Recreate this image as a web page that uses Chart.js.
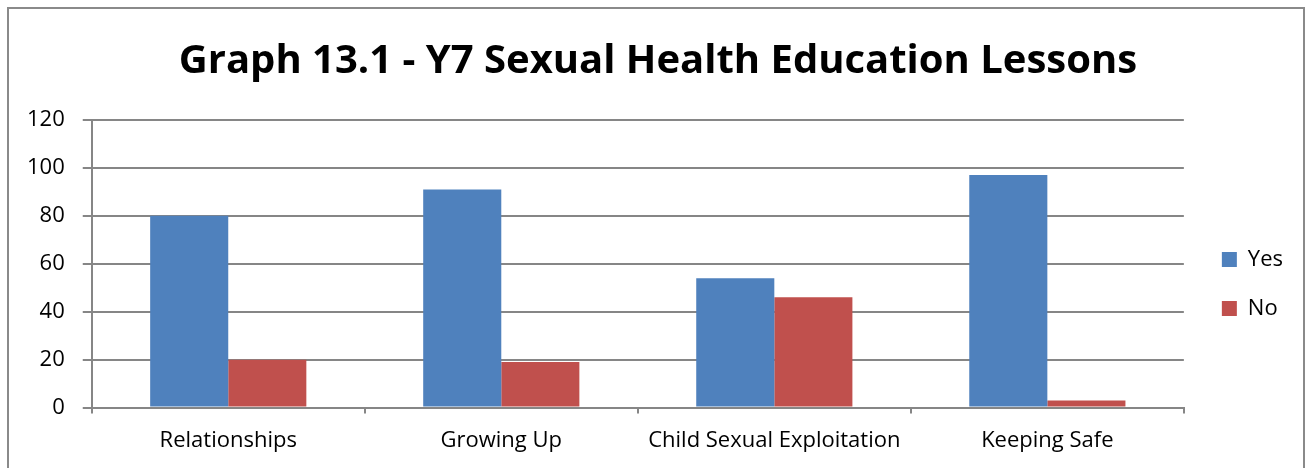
<!DOCTYPE html>
<html>
<head>
<meta charset="utf-8">
<script src="https://cdn.jsdelivr.net/npm/chart.js@4/dist/chart.umd.min.js"></script>
<style>
  body { margin: 0; background: #fff; }
  #frame {
    position: absolute; left: 7px; top: 7px; width: 1298px; height: 500px;
    border: 2px solid #8a8a8a; border-bottom: none; box-sizing: border-box;
  }
  #wrap { position: absolute; left: 0; top: 0; width: 1313px; height: 468px; }
</style>
</head>
<body>
<div id="frame"></div>
<div id="wrap"><canvas id="myChart" width="1313" height="468"></canvas></div>
<script>
const ctx = document.getElementById('myChart').getContext('2d');

// data
const categories = ['Relationships', 'Growing Up', 'Child Sexual Exploitation', 'Keeping Safe'];
const yesValues = [80, 91, 54, 97];
const noValues = [20, 19, 46, 3];
const yTicks = [0, 20, 40, 60, 80, 100, 120];

const axisGrey = '#868686';
const fontFamily = "'Open Sans', 'Liberation Sans', sans-serif";

const graph_data = {
    type: 'bar',
    data: {
        labels: categories,
        datasets: [{
            label: 'Yes',
            data: yesValues,
            backgroundColor: '#4f81bd',
            borderWidth: 0
        }, {
            label: 'No',
            data: noValues,
            backgroundColor: '#c0504d',
            borderWidth: 0
        }]
    },
    options: {
        responsive: false,
        animation: false,
        layout: { padding: { left: 23, right: 20, top: 0, bottom: 0 } },
        datasets: {
            bar: { categoryPercentage: 0.572, barPercentage: 1.0 }
        },
        plugins: {
            title: {
                display: true,
                text: 'Graph 13.1 - Y7 Sexual Health Education Lessons',
                color: '#000',
                font: { family: fontFamily, size: 40, weight: 'bold' },
                padding: { top: 38, bottom: 34 }
            },
            legend: {
                position: 'right',
                // empty title, only there to push the items down a bit
                title: {
                    display: true,
                    text: '',
                    font: { size: 1 },
                    padding: { top: 99, bottom: 0 }
                },
                labels: {
                    color: '#000',
                    font: { family: fontFamily, size: 22 },
                    boxWidth: 15,
                    boxHeight: 15,
                    padding: 27
                }
            },
            tooltip: { enabled: false }
        },
        scales: {
            x: {
                grid: {
                    offset: true,
                    drawOnChartArea: false,
                    color: axisGrey,
                    tickLength: 6,
                    lineWidth: 2
                },
                border: { color: axisGrey, width: 2 },
                ticks: {
                    color: '#000',
                    font: { family: fontFamily, size: 22 },
                    padding: 14,
                    maxRotation: 0
                }
            },
            y: {
                min: 0,
                max: 120,
                afterBuildTicks: function (axis) {
                    axis.ticks = yTicks.map(v => ({ value: v }));
                },
                // labels are right aligned, so trimming the box only moves the title centre
                afterFit: function (axis) { axis.width -= 14; },
                grid: {
                    color: axisGrey,
                    tickLength: 9,
                    lineWidth: 2
                },
                border: { color: axisGrey, width: 2 },
                ticks: {
                    color: '#000',
                    font: { family: fontFamily, size: 22 },
                    padding: 18
                }
            },
            // empty axis that only leaves a gap between the plot and the legend
            gap: {
                axis: 'y',
                position: 'right',
                display: true,
                grid: { display: false },
                border: { display: false },
                ticks: { display: false },
                afterFit: function (axis) { axis.width = 11; }
            }
        }
    }
};

const myChart = new Chart(ctx, graph_data);
</script>
</body>
</html>
